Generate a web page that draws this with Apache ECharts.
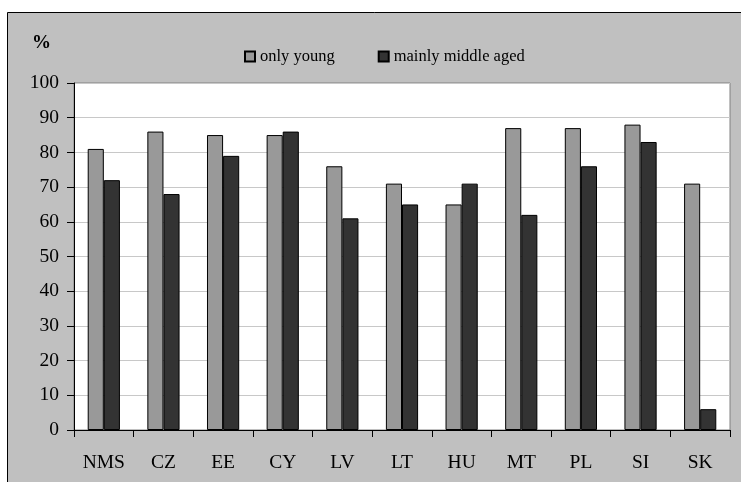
<!DOCTYPE html>
<html>
<head>
<meta charset="utf-8">
<script src="https://cdn.jsdelivr.net/npm/echarts@6/dist/echarts.min.js"></script>
<style>
  html, body { margin: 0; padding: 0; background: #fff; }
  #chart { width: 741px; height: 482px; }
</style>
</head>
<body>
<div id="chart"></div>
<script>
// countries on the x axis
var countries = ['NMS', 'CZ', 'EE', 'CY', 'LV', 'LT', 'HU', 'MT', 'PL', 'SI', 'SK'];
// share of respondents, %
var onlyYoung = [81, 86, 85, 85, 76, 71, 65, 87, 87, 88, 71];
var middleAged = [72, 68, 79, 86, 61, 65, 71, 62, 76, 83, 6];
var seriesNames = ['only young', 'mainly middle aged'];

var chart = echarts.init(document.getElementById('chart'));
var serif = 'Liberation Serif';

chart.setOption({
  animation: false,
  backgroundColor: '#fff',
  textStyle: { fontFamily: serif },
  graphic: [
    {
      type: 'rect',
      z: -10,
      silent: true,
      shape: { x: 7.5, y: 12.5, width: 740, height: 480 },
      style: { fill: '#c0c0c0', stroke: '#000', lineWidth: 1 }
    }
  ],
  title: {
    text: '%',
    left: 27,
    top: 29,
    textStyle: { fontFamily: serif, fontSize: 19, fontWeight: 'bold', color: '#000' }
  },
  legend: {
    left: 239,
    top: 43,
    itemWidth: 10,
    itemHeight: 10,
    itemGap: 43,
    icon: 'rect',
    textStyle: { fontFamily: serif, fontSize: 16.5, color: '#000' },
    data: seriesNames
  },
  grid: {
    left: 74,
    top: 83,
    right: 11,
    bottom: 52,
    show: true,
    backgroundColor: '#fff',
    borderColor: '#808080',
    borderWidth: 1
  },
  xAxis: {
    type: 'category',
    data: countries,
    axisLine: { lineStyle: { color: '#000', width: 1 } },
    axisTick: { show: true, length: 7, lineStyle: { color: '#000' } },
    axisLabel: { color: '#000', fontSize: 19.5, margin: 23, fontFamily: serif }
  },
  yAxis: {
    type: 'value',
    min: 0,
    max: 100,
    interval: 10,
    axisLine: { show: true, lineStyle: { color: '#000', width: 1 } },
    axisTick: { show: true, length: 7, lineStyle: { color: '#000' } },
    axisLabel: { color: '#000', fontSize: 19.5, margin: 15, fontFamily: serif },
    splitLine: { lineStyle: { color: '#c8c8c8', width: 1 } }
  },
  series: [
    {
      name: seriesNames[0],
      type: 'bar',
      data: onlyYoung,
      barGap: '0%',
      barCategoryGap: '46%',
      itemStyle: { color: '#999999', borderColor: '#000', borderWidth: 1 }
    },
    {
      name: seriesNames[1],
      type: 'bar',
      data: middleAged,
      itemStyle: { color: '#333333', borderColor: '#000', borderWidth: 1 }
    }
  ]
});
</script>
</body>
</html>
